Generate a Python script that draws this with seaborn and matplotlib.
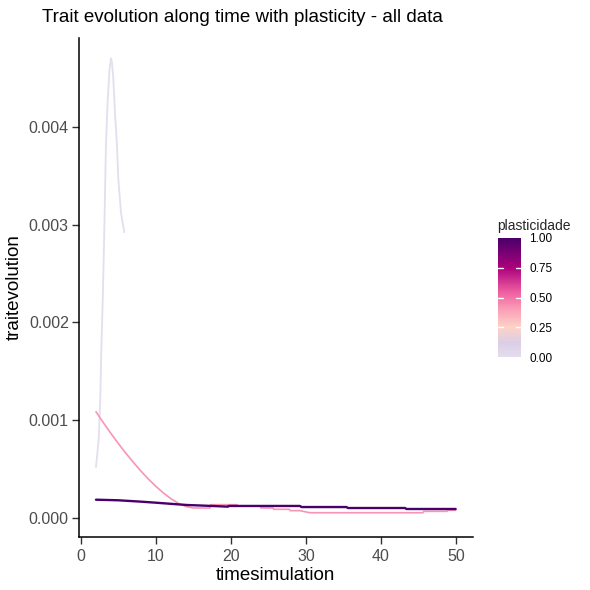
import numpy as np
import pandas as pd
import seaborn as sns
import matplotlib.pyplot as plt
from matplotlib.colors import LinearSegmentedColormap, Normalize
from matplotlib.cm import ScalarMappable

# plasticity 0 (light lavender)
t_p0 = [2.0, 2.36, 2.57, 2.71, 2.89, 3.07, 3.2, 3.33, 3.56, 3.8, 4.0,
        4.13, 4.31, 4.53, 4.8, 4.97, 5.33, 5.77]
y_p0 = [0.000524, 0.0008, 0.001205, 0.001716, 0.002196, 0.002788, 0.003299,
        0.00381, 0.00427, 0.004576, 0.004699, 0.004658, 0.004495, 0.004148,
        0.00381, 0.003473, 0.003126, 0.002922]

# plasticity ~0.4 (pink)
t_pm = [2.0, 3.0, 4.0, 5.0, 6.0, 7.0, 8.0, 9.0, 10.0, 11.0, 12.0, 13.0, 14.0,
        15.0, 17.2, 17.3, 19.2, 20.8, 20.9, 23.9, 24.0, 25.6, 25.7, 27.8, 27.9,
        29.2, 30.5, 45.6, 45.7, 48.8, 48.9, 49.96]
y_pm = [0.001089, 0.000975, 0.000866, 0.000762, 0.000663, 0.00057, 0.000482,
        0.0004, 0.000325, 0.000258, 0.0002, 0.000152, 0.00012, 0.000105,
        0.000105, 0.000139, 0.000139, 0.000139, 0.000126, 0.000126, 0.000105,
        0.000105, 0.000092, 0.000092, 0.000078, 0.000078, 0.000057, 0.000057,
        0.000071, 0.000071, 0.000082, 0.000082]

# plasticity 1 (dark purple)
t_p1 = [2.0, 4.97, 8.0, 9.87, 12.3, 14.1, 16.5, 19.6, 19.7, 22.1, 29.2, 29.4,
        35.4, 35.6, 43.2, 43.4, 49.96]
y_p1 = [0.00019, 0.000184, 0.00017, 0.00016, 0.000146, 0.000136, 0.000129,
        0.000119, 0.000126, 0.000126, 0.000126, 0.000115, 0.000115, 0.000105,
        0.000105, 0.000095, 0.000095]

plast_levels = [0.0, 0.42, 1.0]

df = pd.concat([
    pd.DataFrame({"timesimulation": t_p0, "traitevolution": y_p0, "plasticidade": plast_levels[0]}),
    pd.DataFrame({"timesimulation": t_pm, "traitevolution": y_pm, "plasticidade": plast_levels[1]}),
    pd.DataFrame({"timesimulation": t_p1, "traitevolution": y_p1, "plasticidade": plast_levels[2]}),
])

cmap = LinearSegmentedColormap.from_list("plast", [
    (0.0, "#E4DEEE"), (0.12, "#DCCEE5"), (0.25, "#FDD2C8"), (0.4, "#FA9EB6"),
    (0.55, "#EE5CA0"), (0.75, "#AB017D"), (1.0, "#49006A")])
norm = Normalize(0, 1)

sns.set_theme(style="white")
plt.rcParams["font.family"] = ["Liberation Sans", "DejaVu Sans"]

fig = plt.figure(figsize=(5.9, 5.9), dpi=100)
ax = fig.add_axes([78.5 / 590, 1 - 536.7 / 590, (473 - 78.5) / 590, (536.7 - 38) / 590])

widths = {0.0: 1.3, 0.42: 1.2, 1.0: 1.7}
for lvl in plast_levels:
    sub = df[df["plasticidade"] == lvl]
    sns.lineplot(data=sub, x="timesimulation", y="traitevolution", color=cmap(norm(lvl)),
                 linewidth=widths[lvl], ax=ax, legend=False, sort=False)

ax.set_xlim(-0.33, 52.27)
ax.set_ylim(-0.000188, 0.004906)
ax.set_xticks([0, 10, 20, 30, 40, 50])
ax.set_yticks([0, 0.001, 0.002, 0.003, 0.004])
ax.set_yticklabels(["0.000", "0.001", "0.002", "0.003", "0.004"])
for s in ["top", "right"]:
    ax.spines[s].set_visible(False)
for s in ["left", "bottom"]:
    ax.spines[s].set_color("black")
    ax.spines[s].set_linewidth(1.1)
ax.tick_params(axis="y", length=5, width=1, color="#333333", labelsize=11.5,
               labelcolor="#4D4D4D", left=True, pad=2)
ax.tick_params(axis="x", length=5, width=1, color="#333333", labelsize=11.5,
               labelcolor="#4D4D4D", bottom=True, pad=4)
ax.set_xlabel("timesimulation", fontsize=13.5, color="black", labelpad=2)
ax.set_ylabel("traitevolution", fontsize=13.5, color="black", labelpad=4)
ax.grid(False)

fig.text(42 / 590, 1 - 17 / 590, "Trait evolution along time with plasticity - all data",
         fontsize=13.5, ha="left", va="center", color="black")

# colour bar
cax = fig.add_axes([498 / 590, 1 - 357 / 590, 23 / 590, 119 / 590])
cb = fig.colorbar(ScalarMappable(norm=norm, cmap=cmap), cax=cax)
cb.outline.set_visible(False)
cb.set_ticks([0, 0.25, 0.5, 0.75, 1.0])
cb.set_ticklabels(["0.00", "0.25", "0.50", "0.75", "1.00"])
cax.tick_params(length=0, labelsize=8.5, labelcolor="black", pad=6)
for v in [0.25, 0.5, 0.75]:
    cax.plot([0, 0.2], [v, v], color="white", lw=1, transform=cax.get_yaxis_transform())
    cax.plot([0.8, 1], [v, v], color="white", lw=1, transform=cax.get_yaxis_transform())
fig.text(497 / 590, 1 - 226 / 590, "plasticidade", fontsize=10, ha="left", va="center")

fig.savefig("out.png", dpi=100)
